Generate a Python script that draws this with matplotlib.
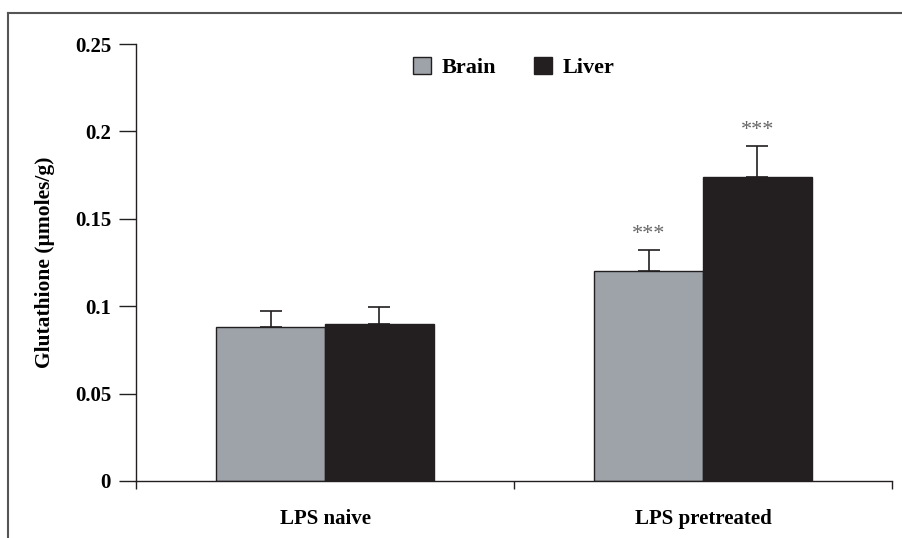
import matplotlib
matplotlib.use("Agg")
import matplotlib.pyplot as plt
from matplotlib.lines import Line2D
import numpy as np

categories = ["LPS naive", "LPS pretreated"]
brain = [0.088, 0.120]
liver = [0.090, 0.174]
brain_err = [0.009, 0.012]
liver_err = [0.0095, 0.0175]
yticks = [0, 0.05, 0.1, 0.15, 0.2, 0.25]
ytick_labels = ["0", "0.05", "0.1", "0.15", "0.2", "0.25"]

plt.rcParams['font.family'] = ['Liberation Serif', 'DejaVu Serif']

fig = plt.figure(figsize=(9.03, 5.38), dpi=100)
ax = fig.add_axes([136/903, 1-481/538, (892-136)/903, (481-44)/538])

x = np.arange(len(categories))
w = 0.288
bc = "#9ea3aa"
lc = "#231f20"
ax.bar(x - w/2, brain, w, color=bc, edgecolor="#231f20", linewidth=1.0, label="Brain", zorder=2)
ax.bar(x + w/2, liver, w, color=lc, edgecolor="#231f20", linewidth=1.0, label="Liver", zorder=2)
ax.errorbar(x - w/2, brain, yerr=[[0, 0], brain_err], fmt="none", ecolor="#231f20",
            elinewidth=1.2, capsize=8, capthick=1.2, zorder=1)
ax.errorbar(x + w/2, liver, yerr=[[0, 0], liver_err], fmt="none", ecolor="#231f20",
            elinewidth=1.2, capsize=8, capthick=1.2, zorder=1)

for xi, v, e in [(x[1] - w/2, brain[1], brain_err[1]), (x[1] + w/2, liver[1], liver_err[1])]:
    ax.text(xi, v + e + 0.0035, "***", ha="center", va="bottom", fontsize=16, color="#666666")

ax.set_xlim(-0.5, 1.5)
ax.set_ylim(0, 0.25)
ax.set_yticks(yticks)
ax.set_yticklabels(ytick_labels, fontsize=15, fontweight="bold")
ax.set_xticks([-0.5, 0.5, 1.5])
ax.set_xticklabels([])
ax.set_xticks(x, minor=True)
ax.set_xticklabels(categories, minor=True, fontsize=15, fontweight="bold")
ax.tick_params(axis="x", which="minor", length=0, pad=20)
ax.tick_params(axis="x", which="major", direction="out", length=6, width=1.0, color="#231f20")
ax.tick_params(axis="y", direction="out", length=12, width=1.0, color="#231f20", pad=6)
for s in ["top", "right"]:
    ax.spines[s].set_visible(False)
for s in ["left", "bottom"]:
    ax.spines[s].set_color("#231f20")
    ax.spines[s].set_linewidth(1.0)
ax.set_ylabel("Glutathione (µmoles/g)", fontsize=15.5, fontweight="bold")
ax.yaxis.set_label_coords(-0.107, 0.5)

leg = ax.legend(loc="upper center", bbox_to_anchor=(0.5, 1.017), ncol=2, frameon=False,
                prop={"size": 16, "weight": "bold"}, handlelength=0.8, handleheight=0.8,
                columnspacing=1.7, handletextpad=0.5)

fig.add_artist(Line2D([8/903, 1], [1-13/538, 1-13/538], color="#555555", linewidth=1.5))
fig.add_artist(Line2D([8/903, 8/903], [0, 1-13/538], color="#555555", linewidth=1.5))

fig.savefig("out.png", dpi=100)
